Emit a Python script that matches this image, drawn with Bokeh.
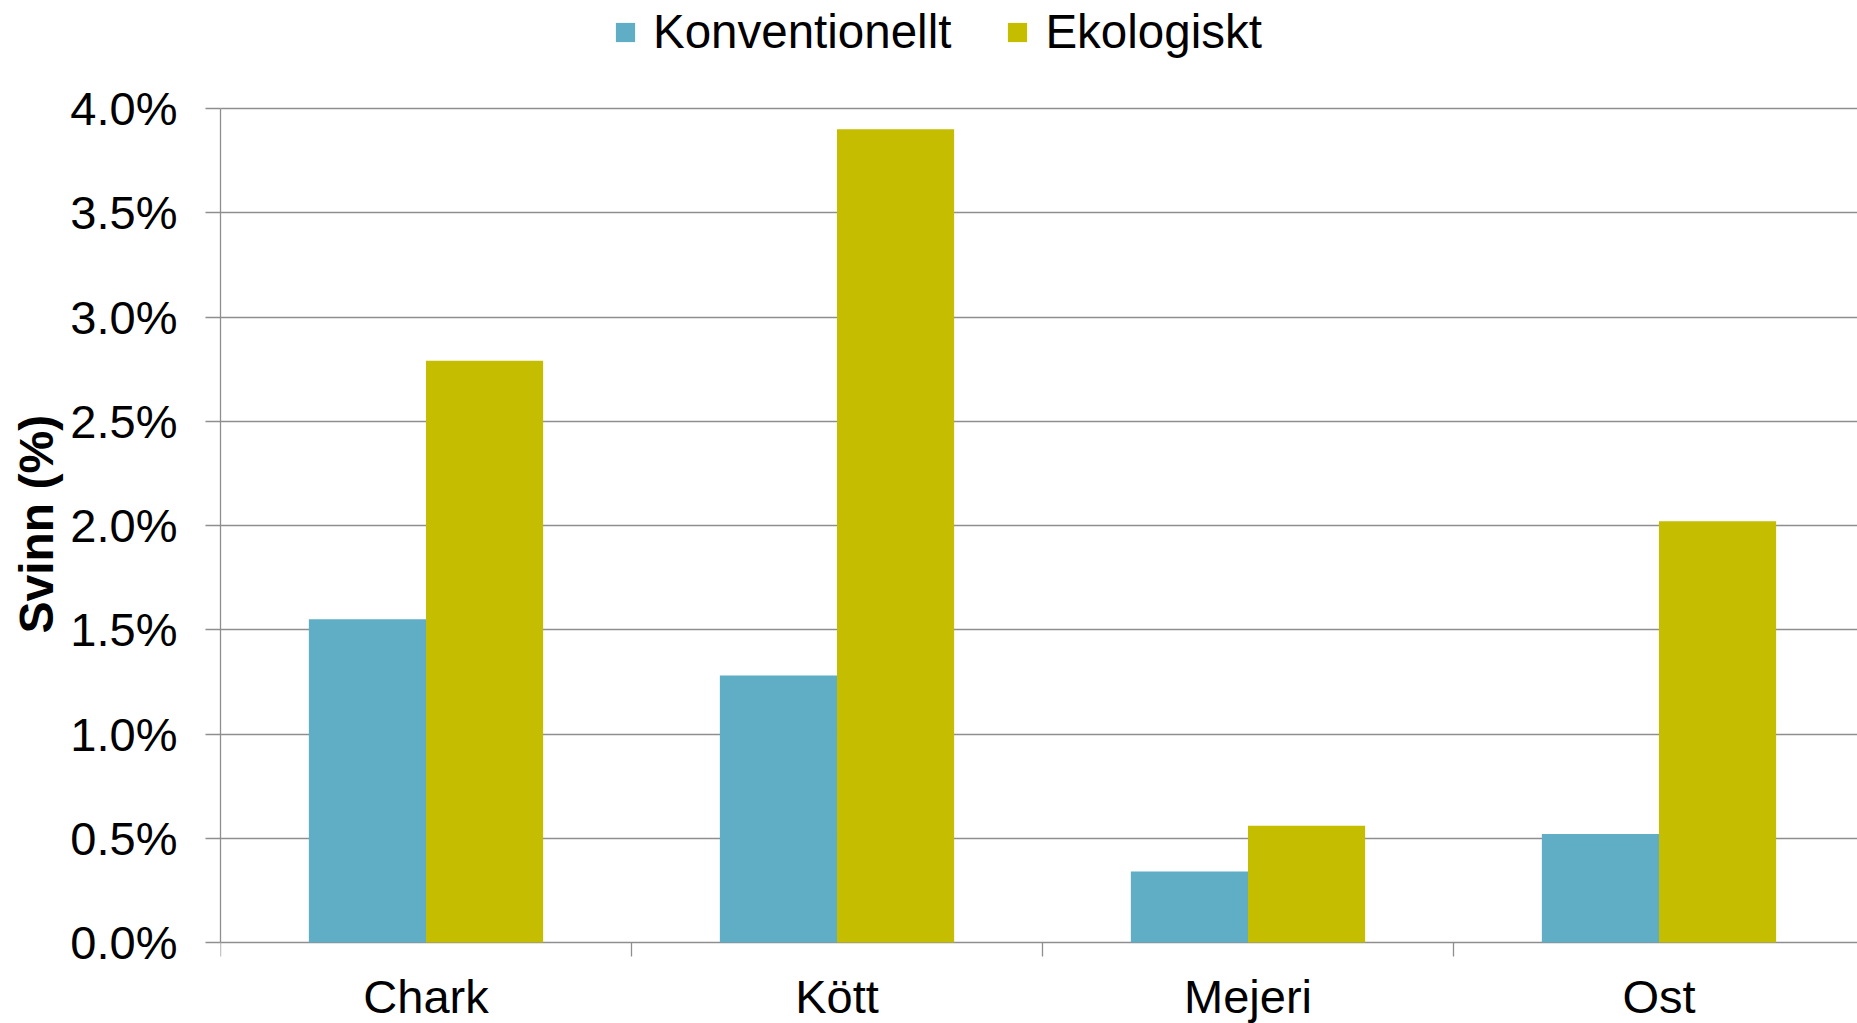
import numpy as np
from bokeh.plotting import figure
from bokeh.models import (Range1d, FixedTicker, NumeralTickFormatter, Legend, LegendItem,
                          ColumnDataSource, Title)
from bokeh.embed import file_html
from bokeh.resources import INLINE
from bokeh.core.properties import value

categories = ["Chark", "Kött", "Mejeri", "Ost"]
konventionellt = [0.0155, 0.0128, 0.0034, 0.0052]
ekologiskt = [0.0279, 0.0390, 0.0056, 0.0202]
series_names = ["Konventionellt", "Ekologiskt"]
colors = ["#5FAEC6", "#C5BE00"]
y_ticks = [0.0, 0.005, 0.01, 0.015, 0.02, 0.025, 0.03, 0.035, 0.04]
y_title = "Svinn (%)"

FONT = "Liberation Sans"
GRID = "#8E8E8E"

idx = np.arange(len(categories))
centers = idx + 0.5
boundaries = np.arange(len(categories) + 1)
bw = 0.285

px_per_unit = 834 / 0.04
y_top = 0.04 + 108 / px_per_unit
y_bottom = -81 / px_per_unit

p = figure(width=1857, height=1023, output_backend="svg", toolbar_location=None,
           x_range=Range1d(0, 3.983), y_range=Range1d(y_bottom, y_top),
           x_axis_location=None,
           min_border_left=220, min_border_right=0, min_border_top=0, min_border_bottom=0)
p.outline_line_color = None
p.background_fill_color = "white"
p.border_fill_color = "white"

src1 = ColumnDataSource(dict(x=centers - bw / 2, top=konventionellt))
src2 = ColumnDataSource(dict(x=centers + bw / 2, top=ekologiskt))
r1 = p.vbar(x="x", top="top", bottom=0, width=bw, source=src1, fill_color=colors[0], line_color=None)
r2 = p.vbar(x="x", top="top", bottom=0, width=bw, source=src2, fill_color=colors[1], line_color=None)

# y axis
p.yaxis.bounds = (y_ticks[0], y_ticks[-1])
p.yaxis.ticker = FixedTicker(ticks=y_ticks)
p.yaxis.formatter = NumeralTickFormatter(format="0.0%")
p.yaxis.major_label_text_font = FONT
p.yaxis.major_label_text_font_size = "47px"
p.yaxis.major_label_text_color = "black"
p.yaxis.major_label_standoff = 28
p.yaxis.major_tick_out = 15
p.yaxis.major_tick_in = 0
p.yaxis.minor_tick_line_color = None
p.yaxis.axis_line_color = GRID
p.yaxis.axis_line_width = 1.3
p.yaxis.major_tick_line_color = GRID
p.yaxis.major_tick_line_width = 1.3

# y axis title (side title, positioned so it is centred on the 0-4 % span)
p.add_layout(Title(text=y_title, text_font=FONT, text_font_size="48px",
                   text_font_style="bold", text_color="black",
                   align="left", offset=390, standoff=10), "left")

p.xgrid.grid_line_color = None
p.ygrid.grid_line_color = GRID
p.ygrid.grid_line_width = 1.3
p.ygrid.ticker = FixedTicker(ticks=y_ticks)

# category axis along y = 0: boundary ticks and centred labels
p.ray(x=boundaries, y=0, length=14, length_units="screen", angle=-np.pi / 2,
      line_color=GRID, line_width=1.3)
p.text(x=centers, y=0, text=categories, y_offset=54,
       text_font=value(FONT), text_font_size="47px", text_color="black",
       text_align="center", text_baseline="alphabetic")

legend = Legend(items=[LegendItem(label=series_names[0], renderers=[r1]),
                       LegendItem(label=series_names[1], renderers=[r2])],
                orientation="horizontal", location=(393, 964),
                label_text_font=FONT, label_text_font_size="47.5px", label_text_color="black",
                glyph_width=24, glyph_height=24, label_standoff=16, spacing=54,
                padding=0, margin=0, border_line_color=None, background_fill_alpha=0)
p.add_layout(legend, "center")

open("out.html", "w").write(file_html(p, INLINE))
